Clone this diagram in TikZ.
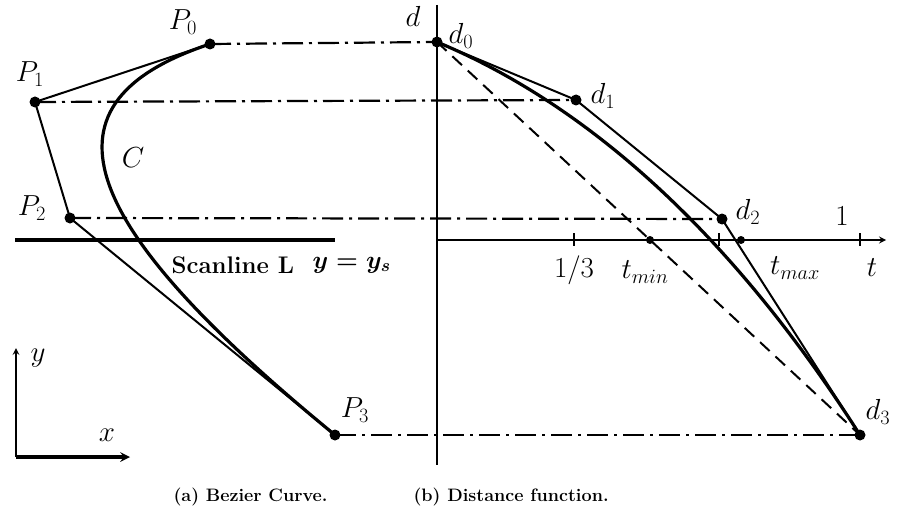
\documentclass[tikz,border=0pt]{standalone}
\usepackage{fix-cm}
\usepackage{amsmath}
\usepackage{fontspec}
\usetikzlibrary{calc}
\begin{document}
\begin{tikzpicture}[
  x=1pt, y=-1pt, >=stealth,
  lbl/.style={font=\fontsize{29}{32}\selectfont},
  bold/.style={font=\bfseries\fontsize{24}{26}\selectfont},
  caption/.style={font=\bfseries\fontsize{18}{21}\selectfont, anchor=west},
  dashdot/.style={line width=2.2pt, dash pattern=on 21pt off 6pt on 3pt off 6pt},
  poly/.style={line width=2pt},
  curve/.style={line width=3.2pt},
  axis/.style={line width=2pt}
]
\useasboundingbox (0,0) rectangle (898,519);
% control points of C
\coordinate (P0) at (210,44);
\coordinate (P1) at (35,102);
\coordinate (P2) at (70,218);
\coordinate (P3) at (335,435);
% distance function
\coordinate (d0) at (437,42);
\coordinate (d1) at (576,100);
\coordinate (d2) at (722,219);
\coordinate (d3) at (860,435);
% axes
\coordinate (dtop) at (437,5);
\coordinate (dbot) at (437,465);
\coordinate (torg) at (437,240);
\coordinate (tend) at (886,240);
\coordinate (third) at (574,240);
\coordinate (one) at (860,240);
\coordinate (tmin) at (650,240);
\coordinate (tcut) at (719,240);
\coordinate (tmax) at (741,240);
\coordinate (sl) at (15,240);
\coordinate (sr) at (335,240);
\coordinate (xy) at (16,457);
\coordinate (ytip) at (16,348);
\coordinate (xtip) at (130,457);

\draw[dashdot] (P0) -- (d0);
\draw[dashdot] (P1) -- (d1);
\draw[dashdot] (P2) -- (d2);
\draw[dashdot] (P3) -- (d3);

\draw[axis] (dtop) -- (dbot);
\draw[axis,->] (torg) -- (tend);
\foreach \k in {third,one,tcut}
  \draw[axis] ($(\k)+(0,-7)$) -- ($(\k)+(0,6)$);
\draw[line width=3.4pt] (sl) -- (sr);
\draw[axis,->] (xy) -- (ytip);
\draw[line width=3.2pt,->] (xy) -- (xtip);

\draw[poly] (P0) -- (P1) -- (P2) -- (P3);
\draw[curve] (P0) .. controls (P1) and (P2) .. (P3);
\draw[poly] (d0) -- (d1) -- (d2) -- (d3);
\draw[curve] (d0) .. controls (d1) and (d2) .. (d3);
\draw[poly, dash pattern=on 13pt off 8pt] (d0) -- (d3);

\foreach \p in {P0,P1,P2,P3,d0,d1,d2,d3}
  \fill (\p) circle (5.5pt);
\foreach \p in {tmin,tmax}
  \fill (\p) circle (4pt);

\node[lbl] (lP0) at (183,22) {$P_0$};
\node[lbl] (lP1) at (30,74) {$P_1$};
\node[lbl] (lP2) at (32,208) {$P_2$};
\node[lbl] (lP3) at (355,410) {$P_3$};
\node[lbl] (lC) at (133,158) {$C$};
\node[lbl] (ld) at (413,16) {$d$};
\node[lbl] (ld0) at (461,36) {$d_0$};
\node[lbl] (ld1) at (603,96) {$d_1$};
\node[lbl] (ld2) at (748,212) {$d_2$};
\node[lbl] (ld3) at (878,412) {$d_3$};
\node[lbl] (lone) at (842,216) {$1$};
\node[lbl] (lthird) at (574,270) {$1/3$};
\node[lbl] (ltmin) at (645,272) {$t_{min}$};
\node[lbl] (ltmax) at (795,268) {$t_{max}$};
\node[lbl] (lt) at (872,268) {$t$};
\node[lbl] (ly) at (38,358) {$y$};
\node[lbl] (lx) at (107,435) {$x$};
\node[bold, anchor=west] (scan) at (168,265) {Scanline L};
\node[anchor=west, font=\fontsize{25}{28}\selectfont] (ys) at (309,265) {$\boldsymbol{y=y_s}$};
\node[caption] (capa) at (170,497) {\textbf{(a) Bezier Curve.}};
\node[caption] (capb) at (410,497) {\textbf{(b) Distance function.}};
\end{tikzpicture}
\end{document}
